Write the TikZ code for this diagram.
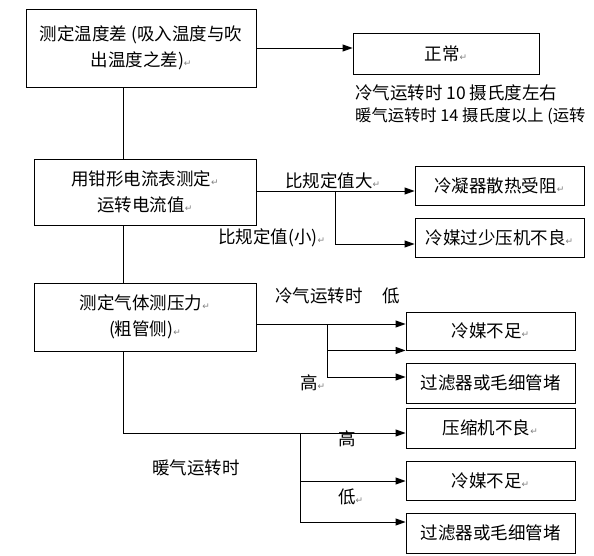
\documentclass[tikz,border=0pt]{standalone}
\usepackage{fontspec}
\setmainfont{Noto Sans CJK SC}
\newfontfamily\markfont{DejaVu Sans}
\usetikzlibrary{arrows, arrows.meta}
\usetikzlibrary{shapes}
\newcommand{\pmark}{{\color{gray}\markfont\fontsize{9}{9}\selectfont ↵}}

\begin{document}
\begin{tikzpicture}[x = 1pt, y = -1pt, font = \fontsize{17.5}{26.5}\selectfont, >= {Triangle[length = 10pt, width = 7pt]}]
	\tikzstyle{boxStyle} = [shape = rectangle, draw, line width = 0.9pt, inner sep = 0pt, align = center]
	\tikzstyle{textStyle} = [inner sep = 0pt, anchor = west]
	\tikzstyle{lineStyle} = [line width = 0.9pt]
	\useasboundingbox (0,0) rectangle (594,556);
	\node[boxStyle, minimum width = 230pt, minimum height = 78pt] (diff) at (141,48) {测定温度差 (吸入温度与吹\\出温度之差)\pmark};
	\node[boxStyle, minimum width = 186pt, minimum height = 41pt] (normal) at (446,53.5) {正常\pmark};
	\node[boxStyle, minimum width = 222pt, minimum height = 66pt] (clamp) at (145,192) {用钳形电流表测定\pmark\\运转电流值\pmark};
	\node[boxStyle, minimum width = 169pt, minimum height = 39pt] (cond) at (499.5,185.5) {冷凝器散热受阻\pmark};
	\node[boxStyle, minimum width = 169pt, minimum height = 39pt] (lack) at (499.5,237.5) {冷媒过少压机不良\pmark};
	\node[boxStyle, minimum width = 222pt, minimum height = 68pt] (press) at (145,317) {测定气体测压力\pmark\\(粗管侧)\pmark};
	\node[boxStyle, minimum width = 169pt, minimum height = 38pt] (short1) at (490.5,331) {冷媒不足\pmark};
	\node[boxStyle, minimum width = 169pt, minimum height = 40pt] (clog1) at (490.5,383) {过滤器或毛细管堵};
	\node[boxStyle, minimum width = 169pt, minimum height = 40pt] (comp) at (490.5,428) {压缩机不良\pmark};
	\node[boxStyle, minimum width = 169pt, minimum height = 39pt] (short2) at (490.5,480.5) {冷媒不足\pmark};
	\node[boxStyle, minimum width = 169pt, minimum height = 40pt] (clog2) at (490.5,533) {过滤器或毛细管堵};
	\node[textStyle] (cool10) at (355,93) {冷气运转时 10 摄氏度左右};
	\node[textStyle, font = \fontsize{16.3}{20}\selectfont] (warm14) at (355,116) {暖气运转时 14 摄氏度以上 (运转};
	\node[textStyle] (big) at (285,181) {比规定值大\pmark};
	\node[textStyle] (small) at (218,238) {比规定值(小)\pmark};
	\node[textStyle] (coolrun) at (275,296) {冷气运转时\hspace{20pt}低};
	\node[textStyle] (high1) at (300,383) {高\pmark};
	\node[textStyle] (high2) at (338,439) {高};
	\node[textStyle] (low2) at (338,497) {低\pmark};
	\node[textStyle] (warmrun) at (152,468) {暖气运转时};
	\coordinate (trunk) at (123,0);
	\coordinate (bj) at (335,191);
	\coordinate (yLack) at (0,244);
	\coordinate (cj) at (327,324);
	\coordinate (yClog) at (0,377);
	\coordinate (wj) at (300,433);
	\coordinate (yShort) at (0,481);
	\coordinate (yFilter) at (0,522);
	\draw[lineStyle, ->] (diff.east) -- (normal.west |- diff.east);
	\draw[lineStyle] (diff.south -| trunk) -- (clamp.north -| trunk);
	\draw[lineStyle, ->] (clamp.east |- bj) -- (cond.west |- bj);
	\draw[lineStyle, ->] (bj) |- (lack.west |- yLack);
	\draw[lineStyle] (clamp.south -| trunk) -- (press.north -| trunk);
	\draw[lineStyle, ->] (press.east |- cj) -- (short1.west |- cj);
	\draw[lineStyle, ->] (cj) |- (short1.south west);
	\draw[lineStyle, ->] (cj) |- (clog1.west |- yClog);
	\draw[lineStyle, ->] (press.south -| trunk) |- (comp.west |- wj);
	\draw[lineStyle, ->] (wj) |- (short2.west |- yShort);
	\draw[lineStyle, ->] (wj) |- (clog2.west |- yFilter);
	\end{tikzpicture}
\end{document}
